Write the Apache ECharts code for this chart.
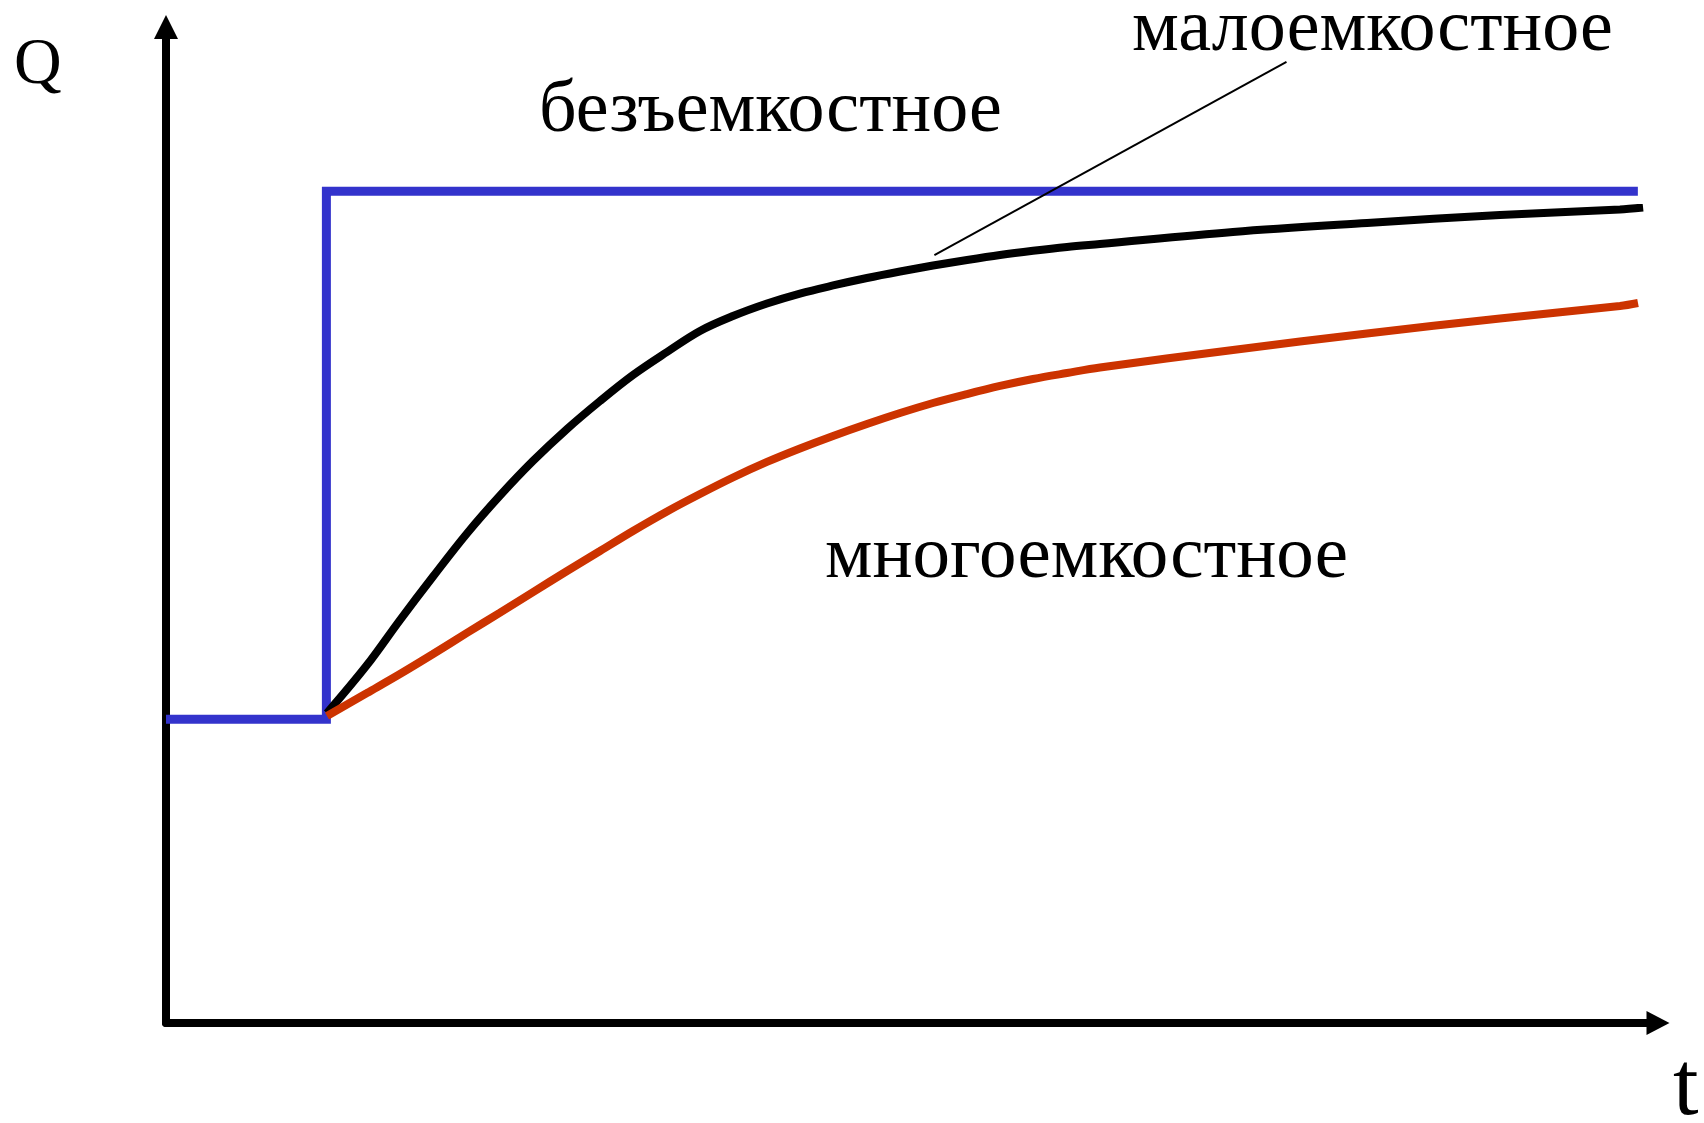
<!DOCTYPE html>
<html>
<head>
<meta charset="utf-8">
<script src="https://cdn.jsdelivr.net/npm/echarts@6/dist/echarts.min.js"></script>
<style>
  html, body { margin: 0; padding: 0; background: #fff; }
  #chart { width: 1704px; height: 1123px; }
</style>
</head>
<body>
<div id="chart"></div>
<script>
// step input (безъемкостное)
var stepT = [0, 10.75, 10.75, 98.65];
var stepQ = [30.5, 30.5, 83.5, 83.5];

// малоемкостное response
var smallT = [10.79, 13.47, 15.68, 17.90, 20.17, 22.39, 24.60, 26.88, 29.09, 31.30, 33.58, 35.79,
  38.00, 40.28, 42.49, 44.71, 46.98, 49.20, 51.41, 53.69, 55.90, 58.11, 60.39, 62.60,
  71.51, 80.50, 89.41, 97.45, 99.0];
var smallQ = [31.12, 35.94, 40.46, 44.83, 49.15, 52.96, 56.43, 59.64, 62.45, 65.06, 67.37, 69.48,
  70.98, 72.24, 73.24, 74.05, 74.80, 75.45, 76.05, 76.61, 77.11, 77.53, 77.91, 78.21,
  79.42, 80.32, 81.12, 81.68, 81.88];

// многоемкостное response
var multiT = [10.79, 13.47, 15.68, 17.90, 20.17, 22.39, 24.60, 26.88, 29.09, 31.30, 33.58, 35.79,
  38.00, 40.28, 42.49, 44.71, 46.98, 49.20, 51.41, 53.69, 55.90, 58.11, 60.39, 62.60,
  71.51, 80.50, 89.41, 97.45, 98.66];
var multiQ = [30.82, 33.13, 35.04, 37.05, 39.16, 41.21, 43.27, 45.38, 47.39, 49.40, 51.36, 53.11,
  54.77, 56.33, 57.68, 58.94, 60.14, 61.24, 62.25, 63.15, 63.96, 64.66, 65.26, 65.81,
  67.57, 69.23, 70.73, 71.99, 72.29];

// leader line from curve to its caption
var leaderT = [51.5, 75.1];
var leaderQ = [77.1, 96.5];

var axisNames = ['t', 'Q'];
var captions = ['безъемкостное', 'малоемкостное', 'многоемкостное'];

function pairs(xs, ys) {
    return xs.map(function (x, i) { return [x, ys[i]]; });
}

var serif = 'Liberation Serif';

function caption(text, x, y, size) {
    return {
        type: 'text',
        x: x,
        y: y,
        style: {
            text: text,
            fontFamily: serif,
            fontSize: size,
            fill: '#000',
            textVerticalAlign: 'middle'
        }
    };
}

var chart = echarts.init(document.getElementById('chart'));

var option = {
    animation: false,
    backgroundColor: '#fff',
    grid: { left: 166, right: 46, top: 27, bottom: 100 },
    xAxis: {
        type: 'value',
        min: 0,
        max: 100,
        axisLine: {
            show: true,
            symbol: ['none', 'triangle'],
            symbolSize: [24, 23],
            lineStyle: { color: '#000', width: 8 }
        },
        axisTick: { show: false },
        axisLabel: { show: false },
        splitLine: { show: false }
    },
    yAxis: {
        type: 'value',
        min: 0,
        max: 100,
        axisLine: {
            show: true,
            symbol: ['none', 'triangle'],
            symbolSize: [24, 24],
            lineStyle: { color: '#000', width: 8 }
        },
        axisTick: { show: false },
        axisLabel: { show: false },
        splitLine: { show: false }
    },
    series: [{
        type: 'line',
        data: pairs(stepT, stepQ),
        showSymbol: false,
        lineStyle: { color: '#3333CC', width: 9, join: 'miter' },
        z: 2
    }, {
        type: 'line',
        data: pairs(smallT, smallQ),
        showSymbol: false,
        smooth: 0.35,
        lineStyle: { color: '#000', width: 8 },
        markLine: {
            silent: true,
            symbol: ['none', 'none'],
            label: { show: false },
            lineStyle: { color: '#000', width: 2, type: 'solid' },
            data: [[
                { coord: [leaderT[0], leaderQ[0]] },
                { coord: [leaderT[1], leaderQ[1]] }
            ]]
        },
        z: 3
    }, {
        type: 'line',
        data: pairs(multiT, multiQ),
        showSymbol: false,
        smooth: 0.35,
        lineStyle: { color: '#CC3300', width: 8 },
        z: 4
    }],
    graphic: [
        caption(axisNames[1], 14, 66, 66),
        caption(axisNames[0], 1673, 1090, 92),
        caption(captions[0], 539, 112, 74),
        caption(captions[1], 1132, 31, 74),
        caption(captions[2], 825, 557, 75)
    ]
};

chart.setOption(option);
</script>
</body>
</html>
